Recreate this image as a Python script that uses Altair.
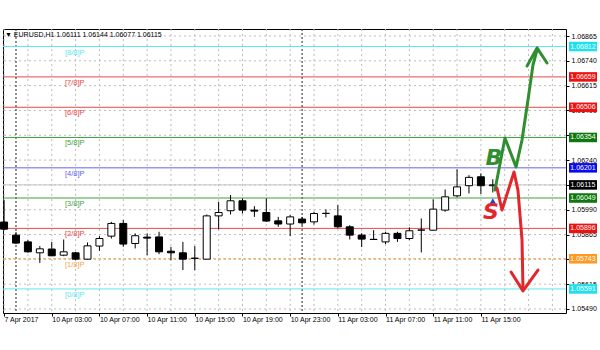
import altair as alt
import pandas as pd

# ---------------- data ----------------
bar_index = list(range(-1, 41))  # hours relative to 10 Apr 00:00
opens = [1.05928, 1.05862, 1.05828, 1.05773, 1.05792, 1.05761, 1.05773, 1.05741, 1.05807, 1.05857,
         1.05921, 1.05820, 1.05852, 1.05853, 1.05781, 1.05773, 1.05745, 1.05741, 1.05959, 1.05985,
         1.06035, 1.05988, 1.05976, 1.05934, 1.05918, 1.05943, 1.05929, 1.05971, 1.05959, 1.05904,
         1.05862, 1.05840, 1.05828, 1.05871, 1.05845, 1.05887, 1.05887, 1.05988, 1.06060, 1.06111,
         1.06156, 1.06111]
highs = [1.06038, 1.05877, 1.05837, 1.05807, 1.05828, 1.05840, 1.05778, 1.05825, 1.05857, 1.05929,
         1.05938, 1.05871, 1.05871, 1.05879, 1.05803, 1.05828, 1.05807, 1.05966, 1.06030, 1.06064,
         1.06047, 1.06008, 1.06047, 1.05954, 1.05963, 1.05954, 1.05980, 1.05992, 1.06013, 1.05912,
         1.05872, 1.05887, 1.05879, 1.05879, 1.05901, 1.05946, 1.06042, 1.06092, 1.06193, 1.06164,
         1.06173, 1.06144]
lows = [1.05887, 1.05817, 1.05773, 1.05722, 1.05756, 1.05756, 1.05736, 1.05738, 1.05783, 1.05845,
        1.05803, 1.05795, 1.05761, 1.05766, 1.05736, 1.05686, 1.05686, 1.05740, 1.05891, 1.05966,
        1.05971, 1.05954, 1.05929, 1.05904, 1.05857, 1.05912, 1.05916, 1.05951, 1.05896, 1.05840,
        1.05802, 1.05839, 1.05817, 1.05828, 1.05837, 1.05775, 1.05886, 1.05980, 1.06052, 1.06072,
        1.06069, 1.06077]
closes = [1.05892, 1.05822, 1.05778, 1.05793, 1.05758, 1.05778, 1.05741, 1.05808, 1.05845, 1.05921,
          1.05817, 1.05859, 1.05847, 1.05778, 1.05773, 1.05741, 1.05746, 1.05959, 1.05976, 1.06035,
          1.05988, 1.05983, 1.05933, 1.05918, 1.05954, 1.05924, 1.05971, 1.05972, 1.05904, 1.05862,
          1.05842, 1.05841, 1.05871, 1.05845, 1.05884, 1.05888, 1.05993, 1.06055, 1.06105, 1.06153,
          1.06111, 1.06115]

mm_names = ["[8/8]P", "[7/8]P", "[6/8]P", "[5/8]P", "[4/8]P", "[3/8]P", "[2/8]P", "[1/8]P", "[0/8]P"]
mm_prices = [1.06812, 1.06659, 1.06506, 1.06354, 1.06201, 1.06049, 1.05896, 1.05743, 1.05591]
mm_line_colors = ["#5ee6ee", "#e84848", "#e84848", "#3f9f3f", "#6464ea", "#3f9f3f", "#e84848", "#f6a64c", "#5ee6ee"]
mm_tag_colors = ["#1fe0ec", "#ee1111", "#ee1111", "#0e780e", "#0a0af0", "#0e780e", "#ee1111", "#ff9922", "#1fe0ec"]
mm_dashed = [False, False, False, False, False, False, False, True, False]

current_price = 1.06115
header_text = "\u25BC EURUSD,H1  1.06111 1.06144 1.06077 1.06115"

y_ticks = [1.05490, 1.05615, 1.05740, 1.05865, 1.05990, 1.06115, 1.06240, 1.06365,
           1.06490, 1.06615, 1.06740, 1.06865]
y_hidden_labels = [1.05740, 1.06115, 1.06365]  # fully covered by price tags in the reference
x_tick_pos = [-1, 3, 7, 11, 15, 19, 23, 27, 31, 35, 39]
x_tick_labels = ["7 Apr 2017", "10 Apr 03:00", "10 Apr 07:00", "10 Apr 11:00", "10 Apr 15:00",
                 "10 Apr 19:00", "10 Apr 23:00", "11 Apr 03:00", "11 Apr 07:00", "11 Apr 11:00",
                 "11 Apr 15:00"]
grid_x = list(range(-1, 47, 2))
day_separators = [0, 24]

# hand-drawn annotations (bar index, price)
green_path_h = [40.18, 41.02, 41.95, 42.45, 42.95, 43.37, 43.71]
green_path_p = [1.06089, 1.06351, 1.06205, 1.06341, 1.06543, 1.06719, 1.06795]
green_head_h = [42.87, 43.71, 44.55]
green_head_p = [1.06714, 1.06805, 1.06729]
red_path_h = [40.35, 40.77, 41.78, 42.11, 42.45, 42.53]
red_path_p = [1.06099, 1.05989, 1.06180, 1.06089, 1.05838, 1.05596]
red_head_h = [41.53, 42.53, 43.79]
red_head_p = [1.05676, 1.05581, 1.05686]
letters = ["B", "S"]
letters_h = [40.1, 39.85]
letters_p = [1.06250, 1.05978]
letters_color = ["#2f8f2f", "#e3262b"]
trade_arrow_h = [40.0]
trade_arrow_p = [1.06034]

# ---------------- build ----------------
W, H = 563, 284
FONT = "Liberation Sans"
xs = alt.Scale(domain=[-1.09, 46.14], nice=False, zero=False, padding=0)
ys = alt.Scale(domain=[1.054698, 1.069003], nice=False, zero=False, padding=0)

candles = pd.DataFrame({"h": bar_index, "o": opens, "hi": highs, "lo": lows, "c": closes})
mm = pd.DataFrame({"name": mm_names, "p": mm_prices, "lc": mm_line_colors,
                   "tc": mm_tag_colors, "dash": mm_dashed})
mm["lbl"] = [f"{v:.5f}" for v in mm_prices]
cur = pd.DataFrame({"p": [current_price], "lbl": [f"{current_price:.5f}"], "tc": ["#000000"]})
tags = pd.concat([mm[["p", "lbl", "tc"]], cur], ignore_index=True)

label_expr = ""
for pos, lab in zip(x_tick_pos, x_tick_labels):
    label_expr += f"datum.value == {pos} ? '{lab}' : "
label_expr += "''"

y_label_expr = ""
for v in y_hidden_labels:
    y_label_expr += f"abs(datum.value - {v}) < 0.000001 ? '' : "
y_label_expr += "format(datum.value, '.5f')"

x_axis = alt.Axis(values=x_tick_pos, labelExpr=label_expr, title=None, grid=False,
                  domain=False, ticks=True, tickSize=3, tickColor="#000",
                  labelAlign="left", labelBaseline="top", labelPadding=-1,
                  labelFont=FONT, labelFontSize=7, labelColor="#000",
                  labelOverlap=False, labelFlush=False)
y_axis = alt.Axis(values=y_ticks, labelExpr=y_label_expr, orient="right", title=None, grid=False,
                  domain=False, tickSize=3, tickColor="#000", labelPadding=2,
                  labelFont=FONT, labelFontSize=7, labelColor="#000",
                  labelOverlap=False, labelFlush=False)

X = lambda f: alt.X(f, scale=xs, axis=x_axis)
Y = lambda f: alt.Y(f, scale=ys, axis=y_axis)

gx = alt.Chart(pd.DataFrame({"h": grid_x})).mark_rule(
    color="#bdbdbd", strokeWidth=1, strokeDash=[2, 3]).encode(x=X("h:Q"))
gy = alt.Chart(pd.DataFrame({"p": y_ticks})).mark_rule(
    color="#bdbdbd", strokeWidth=1, strokeDash=[2, 3]).encode(y=Y("p:Q"))
sep = alt.Chart(pd.DataFrame({"h": day_separators})).mark_rule(
    color="#222", strokeWidth=1, strokeDash=[2, 2]).encode(x=X("h:Q"))

cur_line = alt.Chart(cur).mark_rule(color="#c4c4c4", strokeWidth=1).encode(y=Y("p:Q"))

mm_solid = alt.Chart(mm[~mm["dash"]]).mark_rule(strokeWidth=1).encode(
    y=Y("p:Q"), color=alt.Color("lc:N", scale=None))
mm_dash = alt.Chart(mm[mm["dash"]]).mark_rule(strokeWidth=1, strokeDash=[3, 2]).encode(
    y=Y("p:Q"), color=alt.Color("lc:N", scale=None))
mm_text = alt.Chart(mm).mark_text(align="left", baseline="middle", dy=6, font=FONT,
                                  fontSize=7.5).encode(
    x=alt.value(62), y=Y("p:Q"), text="name:N", color=alt.Color("lc:N", scale=None))

wick = alt.Chart(candles).mark_rule(color="#000", strokeWidth=1).encode(
    x=X("h:Q"), y=Y("lo:Q"), y2="hi:Q")
body = alt.Chart(candles).mark_bar(width=7, stroke="#000", strokeWidth=1).encode(
    x=X("h:Q"), y=Y("o:Q"), y2="c:Q",
    fill=alt.condition("datum.c >= datum.o", alt.value("#ffffff"), alt.value("#000000")))

tag_box = alt.Chart(tags).mark_rect().encode(
    x=alt.value(566), x2=alt.value(594),
    y=Y("top:Q"), y2="bot:Q",
    color=alt.Color("tc:N", scale=None)).transform_calculate(
    top="datum.p + 0.00024", bot="datum.p - 0.00024")
tag_text = alt.Chart(tags).mark_text(align="center", baseline="middle", font=FONT,
                                     fontSize=7, color="#ffffff").encode(
    x=alt.value(580), y=Y("p:Q"), text="lbl:N")

paths = []
for g, hh, pp in [("green", green_path_h, green_path_p), ("greenhead", green_head_h, green_head_p),
                  ("red", red_path_h, red_path_p), ("redhead", red_head_h, red_head_p)]:
    for i, (a, b) in enumerate(zip(hh, pp)):
        paths.append({"g": g, "i": i, "h": a, "p": b,
                      "col": "#2f8f2f" if g.startswith("green") else "#e3262b"})
paths = pd.DataFrame(paths)
arrows = alt.Chart(paths).mark_line(strokeWidth=3, strokeCap="round", strokeJoin="round").encode(
    x=X("h:Q"), y=Y("p:Q"), detail="g:N", order="i:Q",
    color=alt.Color("col:N", scale=None))

let_df = pd.DataFrame({"t": letters, "h": letters_h, "p": letters_p, "col": letters_color})
let_mark = alt.Chart(let_df).mark_text(font="DejaVu Sans", fontSize=22, fontWeight="bold",
                                       fontStyle="italic", baseline="middle", align="center").encode(
    x=X("h:Q"), y=Y("p:Q"), text="t:N", color=alt.Color("col:N", scale=None))

trade = alt.Chart(pd.DataFrame({"h": trade_arrow_h, "p": trade_arrow_p})).mark_point(
    shape="triangle-up", filled=True, size=40, color="#1f3fe0", opacity=1).encode(
    x=X("h:Q"), y=Y("p:Q"))

header = alt.Chart(pd.DataFrame({"t": [header_text]})).mark_text(
    align="left", baseline="middle", font=FONT, fontSize=7, color="#000").encode(
    x=alt.value(2), y=alt.value(6), text="t:N")

chart = alt.layer(
    gx, gy, sep, cur_line, mm_solid, mm_dash, mm_text, wick, body,
    trade, arrows, let_mark, tag_box, tag_text, header
).properties(
    width=W, height=H,
    autosize=alt.AutoSizeParams(type="none"),
    padding={"left": 3, "top": 29, "right": 34, "bottom": 37},
    background="#ffffff"
).configure_view(stroke="#000", strokeWidth=1)

chart.save("out.html", embed_options={"renderer": "svg", "actions": False})
